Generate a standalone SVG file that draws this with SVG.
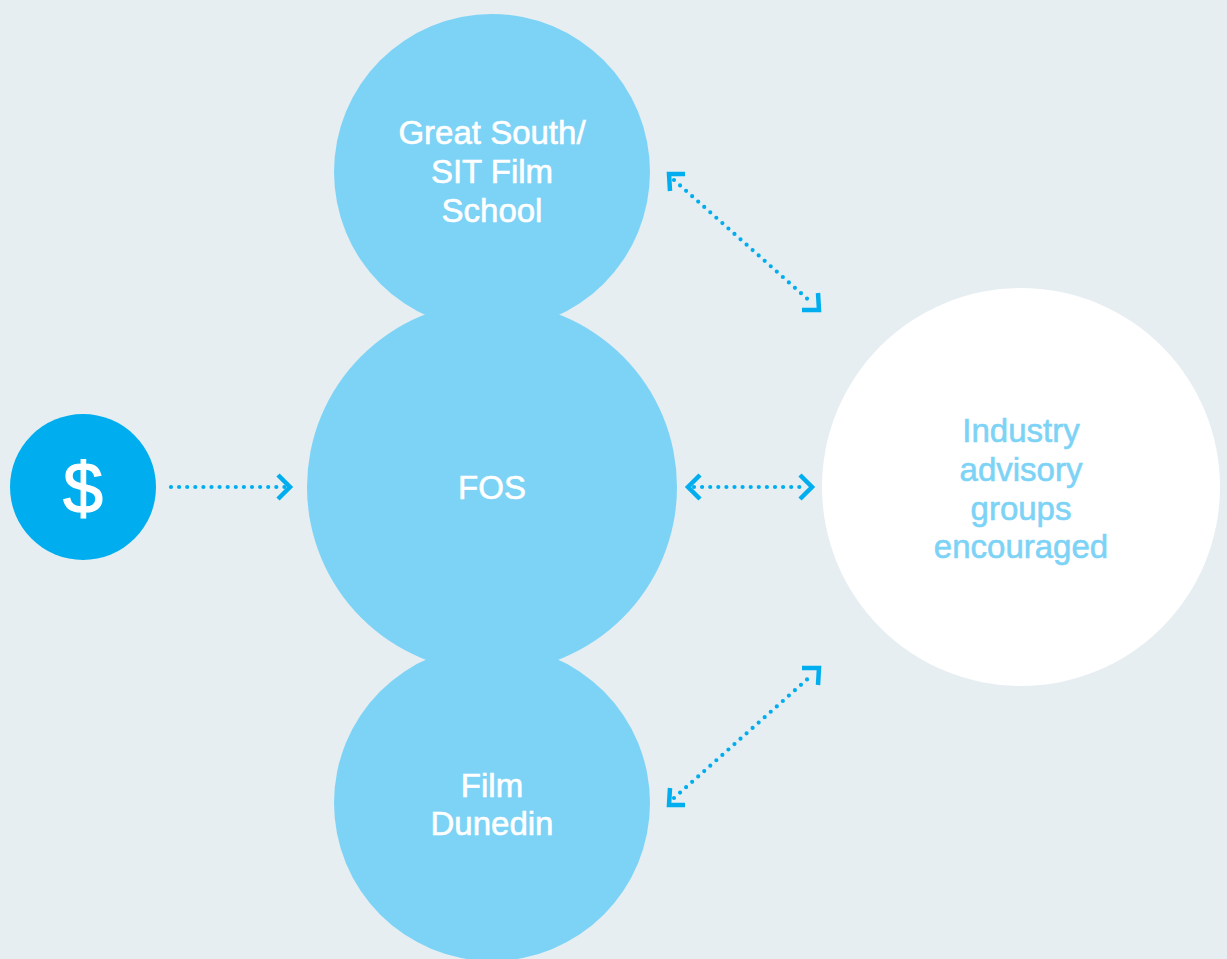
<svg xmlns="http://www.w3.org/2000/svg" width="1227" height="959" viewBox="0 0 1227 959">
<style>
.lb{fill:#7dd3f6}
.t{font-family:"Liberation Sans",Arial,sans-serif;font-size:33px;text-anchor:middle;dominant-baseline:central;stroke-width:0.6}
.w{fill:#ffffff;stroke:#ffffff}
.lt{fill:#7dd3f6;stroke:#7dd3f6}
.dot{fill:none;stroke:#00aeef;stroke-width:4.2;stroke-linecap:round;stroke-dasharray:0 8.1}
.head{fill:none;stroke:#00aeef;stroke-width:4.5}
</style>
<rect width="1227" height="959" fill="#e6eef2"/>
<g id="film-school">
<circle class="lb" cx="492" cy="172" r="158"/>
<text class="t w" x="492" y="132">Great South/</text>
<text class="t w" x="492" y="171">SIT Film</text>
<text class="t w" x="492" y="210">School</text>
</g>
<g id="film-dunedin">
<circle class="lb" cx="492" cy="803" r="158"/>
<text class="t w" x="492" y="785">Film</text>
<text class="t w" x="492" y="823">Dunedin</text>
</g>
<g id="fos">
<circle class="lb" cx="492" cy="487" r="185"/>
<text class="t w" x="492" y="487">FOS</text>
</g>
<g id="dollar">
<circle cx="83" cy="487" r="73" fill="#00aeef"/>
<text class="t w" x="83" y="488" style="font-size:72px;stroke-width:1.2">$</text>
</g>
<g id="industry">
<circle cx="1021" cy="487" r="199" fill="#ffffff"/>
<text class="t lt" x="1021" y="430">Industry</text>
<text class="t lt" x="1021" y="469">advisory</text>
<text class="t lt" x="1021" y="508">groups</text>
<text class="t lt" x="1021" y="546">encouraged</text>
</g>
<g id="connectors">
<line class="dot" x1="171" y1="487" x2="285" y2="487"/>
<polyline class="head" points="278,475 290,487 278,499"/>
<line class="dot" x1="694" y1="487" x2="807" y2="487"/>
<polyline class="head" points="700,475 688,487 700,499"/>
<polyline class="head" points="800,475 812,487 800,499"/>
<line class="dot" x1="674" y1="180" x2="812" y2="303"/>
<polyline class="head" points="685,174 669,174 670,191"/>
<polyline class="head" points="802,310 819,310 818,293"/>
<line class="dot" x1="674" y1="798" x2="812" y2="675"/>
<polyline class="head" points="685,805 669,805 670,788"/>
<polyline class="head" points="802,668 819,668 818,685"/>
</g>
</svg>
